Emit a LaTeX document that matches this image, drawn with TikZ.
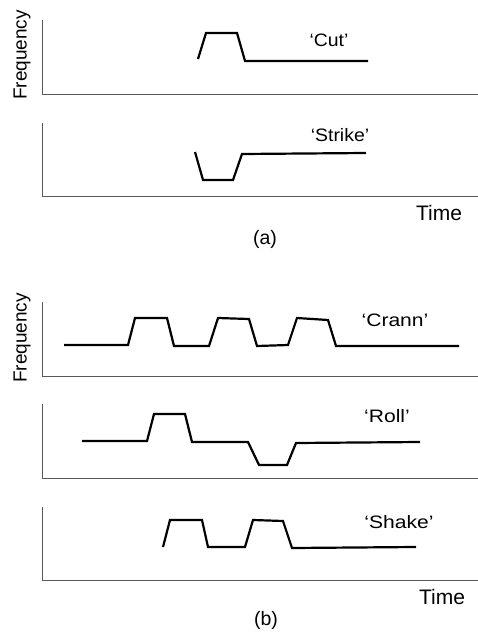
\documentclass[tikz,border=0pt]{standalone}
\usepackage{fontspec}
\setmainfont{Liberation Sans}
\newfontfamily\stretchA[FakeStretch=1.08]{Liberation Sans}
\newfontfamily\stretchB[FakeStretch=1.17]{Liberation Sans}
\begin{document}
\begin{tikzpicture}[x=1pt,y=-1pt,
  axis/.style={draw=black!65,line width=1pt},
  trace/.style={draw=black,line width=2.2pt,line join=miter},
  lbla/.style={inner sep=0pt,font=\stretchA\fontsize{18}{18}\selectfont},
  lblb/.style={inner sep=0pt,font=\stretchB\fontsize{18}{18}\selectfont},
  timelbl/.style={inner sep=0pt,font=\fontsize{21}{21}\selectfont},
  freqlbl/.style={inner sep=0pt,rotate=90,font=\fontsize{19}{19}\selectfont},
  panelcap/.style={inner sep=0pt,font=\fontsize{19.5}{19.5}\selectfont}]
\useasboundingbox (0,0) rectangle (478,632);
% ---------- panel (a) ----------
\draw[axis] (42,20) -- (42,94) -- (478,94);
\draw[axis] (42,123) -- (42,196) -- (478,196);
\node[freqlbl] (fa) at (22,55) {Frequency};
\draw[trace] (198,59) -- (206,33) -- (237,33) -- (245,61) -- (368,61);
\node[lbla] (cut) at (329,40) {‘Cut’};
\draw[trace] (195,152) -- (203,180) -- (233,180) -- (242,154) -- (366,153);
\node[lbla] (strike) at (340,135) {‘Strike’};
\node[timelbl] (ta) at (439,213) {Time};
\node[panelcap] (capa) at (265,239) {(a)};
% ---------- panel (b) ----------
\draw[axis] (42,302) -- (42,376) -- (478,376);
\draw[axis] (42,404) -- (42,478) -- (478,478);
\draw[axis] (42,507) -- (42,580) -- (478,580);
\node[freqlbl] (fb) at (22,338) {Frequency};
\draw[trace] (64,345) -- (128,345) -- (135,318) -- (167,318) -- (174,346) -- (209,346)
  -- (218,318) -- (249,319) -- (257,346) -- (288,345) -- (297,318) -- (328,320)
  -- (336,346) -- (459,346);
\node[lblb] (crann) at (395,320) {‘Crann’};
\draw[trace] (82,441) -- (147,441) -- (154,414) -- (185,414) -- (192,442) -- (248,442)
  -- (259,465) -- (287,465) -- (296,443) -- (420,442);
\node[lblb] (roll) at (387,416) {‘Roll’};
\draw[trace] (163,547) -- (170,520) -- (202,520) -- (208,547) -- (245,547) -- (253,520)
  -- (283,521) -- (292,548) -- (416,547);
\node[lblb] (shake) at (399,522) {‘Shake’};
\node[timelbl] (tb) at (442,597) {Time};
\node[panelcap] (capb) at (266,620) {(b)};
\end{tikzpicture}
\end{document}
